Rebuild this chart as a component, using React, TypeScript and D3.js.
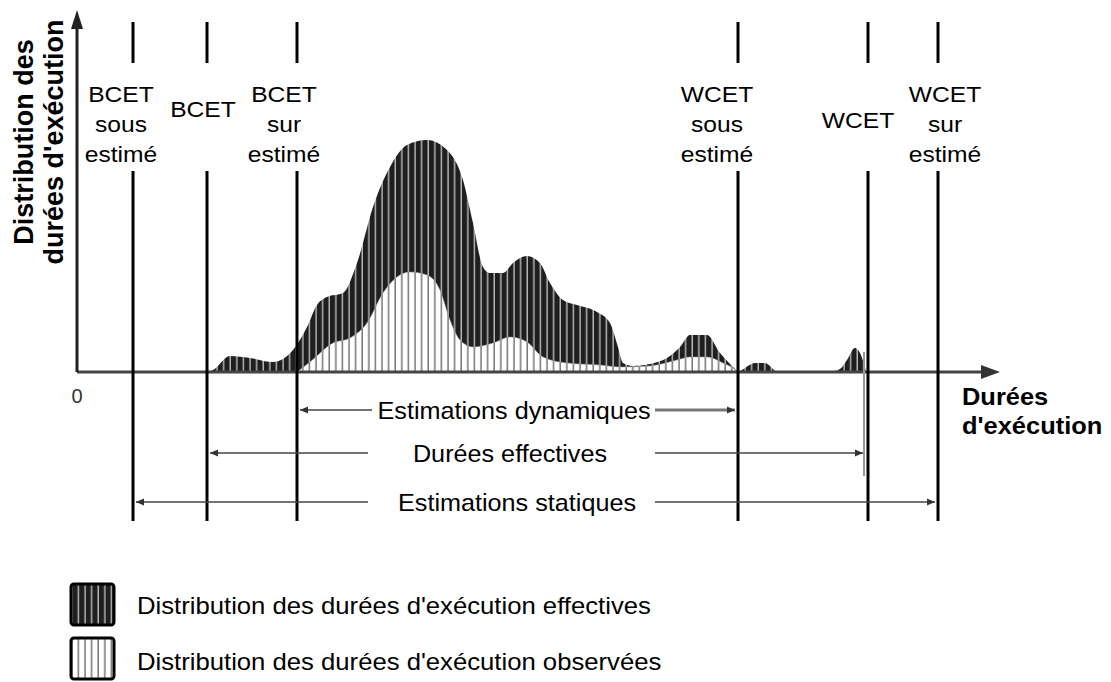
import React from "react";
import * as d3 from "d3";

// Durations (x, arbitrary units) and densities (y, arbitrary units)
const effectiveT = [130, 136, 153, 173, 196, 216, 230, 240, 250, 266, 280, 296, 313, 330, 350, 370, 386, 396, 406, 413, 426, 436, 450, 463, 473, 486, 500, 520, 533, 541, 546, 556, 573, 590, 603, 613, 630, 643, 656, 661];
const effectiveV = [0, 2, 16, 14, 10, 22, 45, 67, 75, 79, 109, 165, 205, 227, 232, 222, 192, 149, 105, 99, 99, 109, 116, 109, 89, 72, 67, 60, 49, 25, 9, 6, 8, 14, 25, 37, 37, 19, 5, 0];
const bump1T = [662, 668, 678, 688, 695, 699];
const bump1V = [0, 4, 9, 9, 4, 0];
const bump2T = [752, 763, 770, 778, 783, 787, 789];
const bump2V = [0, 3, 12, 24, 19, 8, 0];
const observedT = [220, 233, 256, 273, 290, 306, 320, 333, 350, 363, 373, 383, 396, 416, 433, 450, 466, 490, 523, 543, 573, 600, 613, 630, 646, 656, 661];
const observedV = [0, 10, 29, 34, 49, 79, 95, 100, 97, 82, 52, 32, 25, 29, 35, 30, 15, 9, 7, 5, 6, 12, 15, 15, 9, 4, 0];

const markerT = [56, 130, 220, 661, 791, 861];
const markerLabels = [
  ["BCET", "sous", "estimé"],
  ["BCET"],
  ["BCET", "sur", "estimé"],
  ["WCET", "sous", "estimé"],
  ["WCET"],
  ["WCET", "sur", "estimé"],
];
const labelOffsets = [-12, -4, -13, -21, -10, 7];

const rangeLabels = ["Estimations dynamiques", "Durées effectives", "Estimations statiques"];
const rangeFrom = [220, 130, 56];
const rangeTo = [661, 789, 861];

const legendLabels = [
  "Distribution des durées d'exécution effectives",
  "Distribution des durées d'exécution observées",
];

const W = 1111;
const H = 682;
const FONT = "'Liberation Sans', Arial, sans-serif";

function SText(props: {
  x: number; y: number; sx?: number; size: number; anchor?: string; bold?: boolean; fill?: string; children: React.ReactNode;
}) {
  const { x, y, sx = 1, size, anchor = "start", bold, fill = "#000", children } = props;
  return (
    <text
      transform={`translate(${x},${y}) scale(${sx},1)`}
      fontFamily={FONT}
      fontSize={size}
      fontWeight={bold ? "bold" : "normal"}
      textAnchor={anchor}
      fill={fill}
    >
      {children}
    </text>
  );
}

export default function App() {
  const x = d3.scaleLinear().domain([0, 923]).range([77, 1000]);
  const y = d3.scaleLinear().domain([0, 240]).range([372, 132]);

  const area = (ts: number[], vs: number[]) =>
    d3
      .area<number>()
      .x((_, i) => x(ts[i]))
      .y0(y(0))
      .y1((_, i) => y(vs[i]))
      .curve(d3.curveMonotoneX)(vs) || "";

  const rowY = [410, 453, 502];
  const labelLineY = [102, 132, 162];
  const singleY = [0, 117, 0, 0, 128, 0];
  // gaps around the range texts
  const gapL = [372, 368, 368];
  const gapR = [655, 655, 655];
  const textCx = [514, 510, 517];

  const arrowHead = (xt: number, yy: number, dir: number) =>
    `M${xt},${yy} L${xt + dir * 8},${yy - 3.5} L${xt + dir * 8},${yy + 3.5} Z`;

  return (
    <svg width={W} height={H} style={{ display: "block", position: "absolute", left: 0, top: 0, background: "#fff" }}>
      <defs>
        <pattern id="darkP" patternUnits="userSpaceOnUse" width={6.6} height={10}>
          <rect width={6.6} height={10} fill="#1f1f1f" />
          <rect x={5.2} width={1.3} height={10} fill="#c8c8c8" />
        </pattern>
        <pattern id="lightP" patternUnits="userSpaceOnUse" width={6.6} height={10}>
          <rect width={6.6} height={10} fill="#fff" />
          <rect x={5.2} width={1.2} height={10} fill="#555" />
        </pattern>
      </defs>

      {/* distributions */}
      <path d={area(effectiveT, effectiveV)} fill="url(#darkP)" />
      <path d={area(bump1T, bump1V)} fill="url(#darkP)" />
      <path d={area(bump2T, bump2V)} fill="url(#darkP)" />
      <path d={area(observedT, observedV)} fill="url(#lightP)" stroke="#999" strokeWidth={0.5} />

      {/* axes */}
      <line x1={x(0)} y1={y(0)} x2={x(910)} y2={y(0)} stroke="#444" strokeWidth={3} />
      <path d={`M${x(923)},${y(0)} L${x(904)},${y(0) - 7} L${x(904)},${y(0) + 7} Z`} fill="#333" />
      <line x1={x(0)} y1={y(0)} x2={x(0)} y2={24} stroke="#222" strokeWidth={3} />
      <path d={`M${x(0)},10 L${x(0) - 6},29 L${x(0) + 6},29 Z`} fill="#222" />

      {/* marker lines */}
      {markerT.map((t, i) => (
        <g key={i}>
          <line x1={x(t)} x2={x(t)} y1={22} y2={63} stroke="#000" strokeWidth={3} />
          <line x1={x(t)} x2={x(t)} y1={171} y2={521} stroke="#000" strokeWidth={3} />
        </g>
      ))}
      <line x1={x(789) - 2} x2={x(789) - 2} y1={352} y2={476} stroke="#999" strokeWidth={2} />

      {/* marker labels */}
      {markerLabels.map((lines, i) =>
        lines.map((l, j) => (
          <SText key={`${i}-${j}`} x={x(markerT[i]) + labelOffsets[i]} y={lines.length === 1 ? singleY[i] : labelLineY[j]} size={22} sx={1.12} anchor="middle">
            {l}
          </SText>
        ))
      )}

      {/* range arrows */}
      {rangeLabels.map((lab, i) => {
        const x1 = x(rangeFrom[i]) + 3;
        const x2 = x(rangeTo[i]) - 3;
        return (
          <g key={i}>
            <line x1={x1} x2={gapL[i]} y1={rowY[i]} y2={rowY[i]} stroke="#444" strokeWidth={1.5} />
            <line x1={gapR[i]} x2={x2} y1={rowY[i]} y2={rowY[i]} stroke={i === 0 ? "#777" : "#444"} strokeWidth={i === 0 ? 3 : 1.5} />
            <path d={arrowHead(x1, rowY[i], 1)} fill="#333" />
            <path d={arrowHead(x2, rowY[i], -1)} fill="#333" />
            <SText x={textCx[i]} y={rowY[i] + 9} size={24} sx={1.05} anchor="middle">
              {lab}
            </SText>
          </g>
        );
      })}

      {/* axis labels */}
      <text x={77} y={403} fontFamily={FONT} fontSize={20} textAnchor="middle" fill="#333">0</text>
      <SText x={962} y={405} size={24} sx={1.06} bold>Durées</SText>
      <SText x={962} y={434} size={24} sx={1.06} bold>d'exécution</SText>
      <text transform="translate(0,142) rotate(-90)" fontFamily={FONT} fontSize={27} fontWeight="bold" textAnchor="middle" fill="#000">
        <tspan x={0} y={33}>Distribution des</tspan>
        <tspan x={0} y={63}>durées d'exécution</tspan>
      </text>

      {/* legend */}
      {legendLabels.map((lab, i) => (
        <g key={i}>
          <rect x={71} y={584 + i * 54} width={43} height={41} rx={3} fill={i === 0 ? "url(#darkP)" : "url(#lightP)"} stroke="#000" strokeWidth={3} />
          <SText x={137} y={614 + i * 56} size={24} sx={1.07}>{lab}</SText>
        </g>
      ))}
    </svg>
  );
}
